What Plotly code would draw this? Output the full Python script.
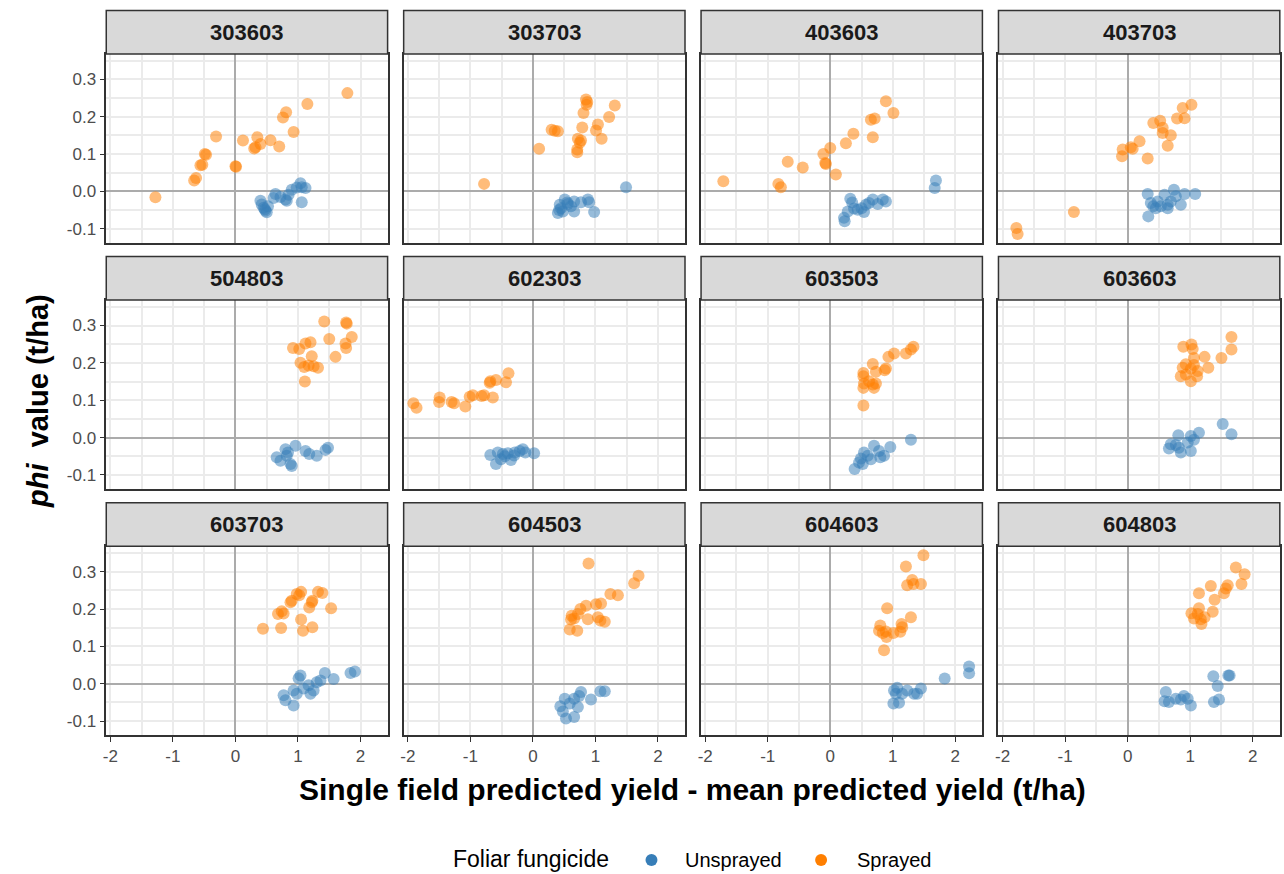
import plotly.graph_objects as go

# ---------------- data ----------------
field_ids = ["303603", "303703", "403603", "403703",
             "504803", "602303", "603503", "603603",
             "603703", "604503", "604603", "604803"]

x_ticks = [-2, -1, 0, 1, 2]
x_tick_labels = ["-2", "-1", "0", "1", "2"]
y_ticks = [-0.1, 0.0, 0.1, 0.2, 0.3]
y_tick_labels = ["-0.1", "0.0", "0.1", "0.2", "0.3"]
legend_labels = ["Unsprayed", "Sprayed"]

s303603_x = [-1.28, -0.66, -0.63, -0.56, -0.53, -0.49, -0.47, -0.31, 0.0, 0.01, 0.12, 0.30, 0.32, 0.35, 0.40, 0.56, 0.70, 0.76, 0.81, 0.93, 1.15, 1.79]
s303603_y = [-0.016, 0.029, 0.036, 0.070, 0.071, 0.100, 0.098, 0.147, 0.067, 0.066, 0.136, 0.115, 0.118, 0.145, 0.127, 0.137, 0.120, 0.198, 0.212, 0.159, 0.234, 0.263]
u303603_x = [0.40, 0.42, 0.45, 0.48, 0.50, 0.47, 0.52, 0.61, 0.64, 0.72, 0.80, 0.82, 0.85, 0.90, 0.98, 1.04, 1.06, 1.12, 1.06]
u303603_y = [-0.025, -0.035, -0.044, -0.052, -0.056, -0.048, -0.040, -0.018, -0.007, -0.015, -0.022, -0.025, -0.009, 0.004, 0.010, 0.022, 0.011, 0.009, -0.029]

s303703_x = [-0.78, 0.10, 0.30, 0.35, 0.40, 0.71, 0.71, 0.72, 0.77, 0.75, 0.79, 0.81, 0.85, 0.87, 0.86, 1.01, 1.04, 1.10, 1.22, 1.31]
s303703_y = [0.020, 0.114, 0.165, 0.162, 0.161, 0.105, 0.112, 0.141, 0.136, 0.130, 0.171, 0.210, 0.246, 0.239, 0.232, 0.163, 0.179, 0.141, 0.199, 0.230]
u303703_x = [0.40, 0.45, 0.43, 0.51, 0.56, 0.66, 0.66, 0.77, 0.88, 0.90, 0.98, 0.48, 0.61, 0.42, 0.55, 1.49]
u303703_y = [-0.058, -0.045, -0.036, -0.022, -0.034, -0.027, -0.054, -0.029, -0.022, -0.029, -0.055, -0.054, -0.040, -0.050, -0.030, 0.011]

s403603_x = [-1.71, -0.83, -0.79, -0.68, -0.44, -0.11, 0.0, -0.08, -0.07, 0.09, 0.25, 0.37, 0.68, 0.65, 0.71, 0.89, 1.01]
s403603_y = [0.027, 0.020, 0.011, 0.079, 0.064, 0.100, 0.116, 0.076, 0.073, 0.045, 0.129, 0.154, 0.145, 0.192, 0.195, 0.241, 0.210]
u403603_x = [1.69, 1.67, 0.22, 0.23, 0.28, 0.32, 0.38, 0.44, 0.54, 0.57, 0.62, 0.68, 0.76, 0.84, 0.89, 0.50, 0.35]
u403603_y = [0.029, 0.009, -0.071, -0.080, -0.054, -0.020, -0.046, -0.049, -0.055, -0.036, -0.031, -0.022, -0.034, -0.022, -0.027, -0.045, -0.030]

s403703_x = [-1.78, -1.76, -0.86, -0.09, -0.08, 0.05, 0.08, 0.19, 0.32, 0.41, 0.52, 0.56, 0.56, 0.69, 0.64, 0.79, 0.91, 0.88, 1.02]
s403703_y = [-0.098, -0.114, -0.055, 0.094, 0.112, 0.118, 0.114, 0.134, 0.088, 0.183, 0.189, 0.170, 0.156, 0.150, 0.122, 0.195, 0.196, 0.223, 0.232]
u403703_x = [0.33, 0.32, 0.41, 0.37, 0.48, 0.53, 0.59, 0.64, 0.69, 0.74, 0.77, 0.85, 0.91, 1.08, 0.45, 0.64]
u403703_y = [-0.067, -0.007, -0.040, -0.031, -0.027, -0.040, -0.009, -0.036, -0.027, 0.004, -0.013, -0.036, -0.007, -0.007, -0.045, -0.045]

s504803_x = [1.42, 1.77, 1.78, 1.86, 1.50, 1.76, 1.77, 1.60, 0.92, 1.02, 1.12, 1.20, 1.22, 1.04, 1.10, 1.17, 1.25, 1.32, 1.11]
s504803_y = [0.311, 0.308, 0.305, 0.269, 0.264, 0.252, 0.240, 0.216, 0.240, 0.237, 0.252, 0.255, 0.218, 0.200, 0.189, 0.193, 0.191, 0.187, 0.150]
u504803_x = [0.66, 0.72, 0.80, 0.82, 0.88, 0.90, 0.96, 0.84, 1.12, 1.18, 1.30, 1.44, 1.48]
u504803_y = [-0.053, -0.062, -0.031, -0.049, -0.071, -0.076, -0.022, -0.040, -0.036, -0.044, -0.049, -0.033, -0.027]

s602303_x = [-1.91, -1.86, -1.49, -1.50, -1.30, -1.26, -1.08, -1.01, -0.96, -0.82, -0.78, -0.64, -0.68, -0.59, -0.69, -0.43, -0.39]
s602303_y = [0.092, 0.080, 0.107, 0.095, 0.095, 0.092, 0.083, 0.109, 0.113, 0.111, 0.113, 0.107, 0.151, 0.154, 0.147, 0.148, 0.172]
u602303_x = [-0.68, -0.59, -0.56, -0.48, -0.40, -0.35, -0.29, -0.21, -0.16, -0.12, 0.02, -0.51, -0.45, -0.30]
u602303_y = [-0.047, -0.071, -0.040, -0.044, -0.042, -0.060, -0.040, -0.036, -0.031, -0.040, -0.042, -0.058, -0.050, -0.048]

s603503_x = [0.53, 0.53, 0.54, 0.53, 0.53, 0.68, 0.70, 0.73, 0.62, 0.68, 0.73, 0.89, 0.87, 0.93, 1.02, 1.21, 1.29, 1.33]
s603503_y = [0.086, 0.133, 0.145, 0.164, 0.173, 0.142, 0.133, 0.145, 0.151, 0.197, 0.176, 0.185, 0.180, 0.216, 0.225, 0.225, 0.236, 0.243]
u603503_x = [1.29, 0.39, 0.46, 0.49, 0.54, 0.60, 0.65, 0.70, 0.78, 0.80, 0.86, 0.96, 0.52]
u603503_y = [-0.006, -0.084, -0.067, -0.056, -0.040, -0.049, -0.058, -0.022, -0.036, -0.053, -0.049, -0.025, -0.071]

s603603_x = [1.66, 1.66, 1.50, 0.89, 1.02, 1.04, 1.06, 1.23, 1.29, 0.88, 0.93, 1.01, 1.06, 1.12, 0.85, 0.93, 1.01, 1.11]
s603603_y = [0.269, 0.236, 0.213, 0.243, 0.249, 0.237, 0.213, 0.216, 0.187, 0.187, 0.196, 0.184, 0.194, 0.178, 0.164, 0.169, 0.151, 0.164]
u603603_x = [1.52, 1.66, 1.14, 1.01, 0.81, 0.69, 0.66, 0.77, 0.85, 1.01, 0.96, 1.06, 0.82]
u603603_y = [0.036, 0.009, 0.013, 0.004, 0.006, -0.018, -0.029, -0.020, -0.040, -0.036, -0.013, -0.006, -0.027]

s603703_x = [0.44, 0.73, 0.68, 0.74, 0.77, 0.88, 0.90, 0.98, 1.05, 1.02, 1.05, 1.08, 1.23, 1.18, 1.22, 1.23, 1.32, 1.39, 1.53]
s603703_y = [0.147, 0.149, 0.187, 0.194, 0.188, 0.218, 0.222, 0.240, 0.246, 0.237, 0.172, 0.142, 0.151, 0.204, 0.218, 0.222, 0.246, 0.243, 0.202]
u603703_x = [0.77, 0.80, 0.93, 0.93, 0.98, 1.01, 1.04, 1.09, 1.17, 1.20, 1.25, 1.30, 1.36, 1.43, 1.57, 1.84, 1.91]
u603703_y = [-0.031, -0.044, -0.058, -0.018, -0.027, 0.015, 0.022, -0.013, -0.004, -0.027, -0.018, 0.004, 0.009, 0.029, 0.013, 0.029, 0.033]

s604503_x = [0.89, 1.69, 1.62, 1.24, 1.36, 0.85, 0.76, 1.01, 1.09, 0.62, 0.66, 0.72, 0.61, 0.88, 1.04, 1.08, 1.15, 0.59, 0.71]
s604503_y = [0.322, 0.289, 0.269, 0.240, 0.237, 0.209, 0.200, 0.213, 0.215, 0.182, 0.175, 0.187, 0.172, 0.173, 0.178, 0.169, 0.166, 0.145, 0.142]
u604503_x = [0.44, 0.48, 0.53, 0.66, 0.51, 0.59, 0.66, 0.72, 0.77, 0.93, 1.08, 1.15, 0.74]
u604503_y = [-0.060, -0.074, -0.093, -0.089, -0.040, -0.053, -0.040, -0.062, -0.022, -0.042, -0.020, -0.020, -0.033]

s604603_x = [1.49, 1.21, 1.31, 1.23, 1.33, 1.45, 0.91, 1.29, 1.14, 1.15, 1.12, 1.01, 0.80, 0.78, 0.84, 0.89, 0.90, 0.86]
s604603_y = [0.344, 0.314, 0.278, 0.264, 0.267, 0.267, 0.202, 0.178, 0.160, 0.151, 0.139, 0.136, 0.156, 0.142, 0.136, 0.140, 0.125, 0.090]
u604603_x = [2.22, 2.22, 1.83, 1.01, 1.10, 1.05, 1.07, 1.02, 1.15, 1.34, 1.45, 1.39, 1.23]
u604603_y = [0.046, 0.028, 0.014, -0.053, -0.051, -0.027, -0.011, -0.018, -0.027, -0.027, -0.013, -0.027, -0.018]

s604803_x = [1.73, 1.87, 1.82, 1.60, 1.57, 1.54, 1.39, 1.33, 1.14, 1.36, 1.14, 1.02, 1.06, 1.17, 1.23, 1.18, 1.12]
s604803_y = [0.311, 0.293, 0.267, 0.264, 0.255, 0.242, 0.225, 0.262, 0.242, 0.193, 0.202, 0.189, 0.175, 0.173, 0.178, 0.160, 0.187]
u604803_x = [0.61, 0.59, 0.66, 0.77, 0.90, 0.96, 1.01, 0.85, 1.37, 1.44, 1.38, 1.46, 1.61, 1.63]
u604803_y = [-0.022, -0.047, -0.049, -0.040, -0.033, -0.040, -0.058, -0.042, 0.020, -0.006, -0.049, -0.042, 0.022, 0.022]

sprayed_x = [s303603_x, s303703_x, s403603_x, s403703_x, s504803_x, s602303_x,
             s603503_x, s603603_x, s603703_x, s604503_x, s604603_x, s604803_x]
sprayed_y = [s303603_y, s303703_y, s403603_y, s403703_y, s504803_y, s602303_y,
             s603503_y, s603603_y, s603703_y, s604503_y, s604603_y, s604803_y]
unsprayed_x = [u303603_x, u303703_x, u403603_x, u403703_x, u504803_x, u602303_x,
               u603503_x, u603603_x, u603703_x, u604503_x, u604603_x, u604803_x]
unsprayed_y = [u303603_y, u303703_y, u403603_y, u403703_y, u504803_y, u602303_y,
               u603503_y, u603603_y, u603703_y, u604503_y, u604603_y, u604803_y]

# ---------------- style / layout ----------------
W, H = 1284, 874
FONT = "Liberation Sans, Arial, Helvetica, sans-serif"
BLUE = "#377EB8"
ORANGE = "#FF7F00"
GRID = "#EBEBEB"
ZERO = "#ABABAB"
FRAME = "#333333"

X_RANGE = [-2.066, 2.433]
Y_RANGE = [-0.138, 0.368]

PANEL_L0, PANEL_DX, PANEL_W = 103.5, 298.1, 282.0
PANEL_T0, PANEL_DY, PANEL_H = 53.9, 246.2, 189.0
STRIP_H = 43.5


def px_x(p):
    return p / W


def px_y(p):
    return 1 - p / H


fig = go.Figure()
layout = {}
shapes = []
annotations = []

for i, fid in enumerate(field_ids):
    r, c = divmod(i, 4)
    suf = "" if i == 0 else str(i + 1)
    left = PANEL_L0 + PANEL_DX * c
    right = left + PANEL_W
    top = PANEL_T0 + PANEL_DY * r
    bottom = top + PANEL_H

    fig.add_trace(go.Scatter(
        x=unsprayed_x[i], y=unsprayed_y[i], mode="markers",
        xaxis="x" + suf, yaxis="y" + suf, showlegend=False, hoverinfo="skip",
        marker=dict(color=BLUE, size=12, opacity=0.52, line=dict(width=0))))
    fig.add_trace(go.Scatter(
        x=sprayed_x[i], y=sprayed_y[i], mode="markers",
        xaxis="x" + suf, yaxis="y" + suf, showlegend=False, hoverinfo="skip",
        marker=dict(color=ORANGE, size=12, opacity=0.52, line=dict(width=0))))

    bottom_row = (r == 2)
    first_col = (c == 0)
    layout["xaxis" + suf] = dict(
        domain=[px_x(left), px_x(right)], anchor="y" + suf, range=X_RANGE,
        tickmode="array", tickvals=x_ticks, ticktext=x_tick_labels,
        showticklabels=bottom_row, ticks="outside" if bottom_row else "",
        ticklen=5, tickwidth=1.3, tickcolor=FRAME,
        tickfont=dict(family=FONT, size=17, color="#4D4D4D"),
        showgrid=True, gridcolor=GRID, gridwidth=2,
        minor=dict(tickmode="array", tickvals=[-1.5, -0.5, 0.5, 1.5],
                   showgrid=True, gridcolor=GRID, gridwidth=2, ticks=""),
        zeroline=True, zerolinecolor=ZERO, zerolinewidth=2,
        showline=True, mirror=True, linecolor=FRAME, linewidth=1.5,
        fixedrange=True)
    layout["yaxis" + suf] = dict(
        domain=[px_y(bottom), px_y(top)], anchor="x" + suf, range=Y_RANGE,
        tickmode="array", tickvals=y_ticks, ticktext=y_tick_labels,
        showticklabels=first_col, ticks="outside" if first_col else "",
        ticklen=5, tickwidth=1.3, tickcolor=FRAME,
        tickfont=dict(family=FONT, size=17, color="#4D4D4D"),
        showgrid=True, gridcolor=GRID, gridwidth=2,
        minor=dict(tickmode="array", tickvals=[-0.05, 0.05, 0.15, 0.25, 0.35],
                   showgrid=True, gridcolor=GRID, gridwidth=2, ticks=""),
        zeroline=True, zerolinecolor=ZERO, zerolinewidth=2,
        showline=True, mirror=True, linecolor=FRAME, linewidth=1.5,
        fixedrange=True)

    shapes.append(dict(type="rect", xref="paper", yref="paper",
                       x0=px_x(left), x1=px_x(right),
                       y0=px_y(top), y1=px_y(top - STRIP_H),
                       fillcolor="#D9D9D9", line=dict(color=FRAME, width=1.5)))
    annotations.append(dict(xref="paper", yref="paper",
                            x=px_x((left + right) / 2), y=px_y(top - STRIP_H / 2),
                            text="<b>%s</b>" % fid, showarrow=False,
                            xanchor="center", yanchor="middle",
                            font=dict(family=FONT, size=22, color="#1A1A1A")))

# axis titles
annotations.append(dict(xref="paper", yref="paper", x=px_x(691), y=px_y(789),
                        text="<b>Single field predicted yield - mean predicted yield (t/ha)</b>",
                        showarrow=False, xanchor="center", yanchor="middle",
                        font=dict(family=FONT, size=30, color="black")))
annotations.append(dict(xref="paper", yref="paper", x=px_x(35), y=px_y(401),
                        text="<b><i>phi</i>&nbsp; value (t/ha)</b>", textangle=-90,
                        showarrow=False, xanchor="center", yanchor="middle",
                        font=dict(family=FONT, size=29, color="black")))

# legend (drawn by hand to match the reference spacing)
LEG_Y = 859
annotations.append(dict(xref="paper", yref="paper", x=px_x(450), y=px_y(LEG_Y),
                        text="Foliar fungicide", showarrow=False,
                        xanchor="left", yanchor="middle", borderpad=0,
                        font=dict(family=FONT, size=23, color="black")))
for lab, col, dot_x, text_x in zip(legend_labels, [BLUE, ORANGE], [650, 820], [683, 855]):
    rr = 6
    shapes.append(dict(type="circle", xref="paper", yref="paper",
                       x0=px_x(dot_x - rr), x1=px_x(dot_x + rr),
                       y0=px_y(LEG_Y + 1 + rr), y1=px_y(LEG_Y + 1 - rr),
                       fillcolor=col, line=dict(width=0)))
    annotations.append(dict(xref="paper", yref="paper", x=px_x(text_x), y=px_y(LEG_Y + 1),
                            text=lab, showarrow=False,
                            xanchor="left", yanchor="middle", borderpad=0,
                            font=dict(family=FONT, size=20, color="black")))

fig.update_layout(
    width=W, height=H, margin=dict(l=0, r=0, t=0, b=0),
    paper_bgcolor="white", plot_bgcolor="white",
    font=dict(family=FONT),
    shapes=shapes, annotations=annotations,
    showlegend=False,
    **layout)

fig.write_html("out.html")
